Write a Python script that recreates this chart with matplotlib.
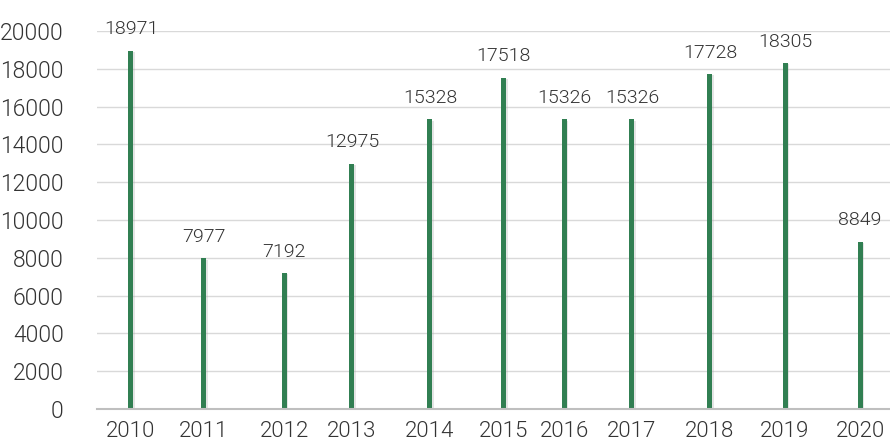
import matplotlib
matplotlib.use("Agg")
import matplotlib.pyplot as plt
import matplotlib.dates as mdates
import matplotlib.patheffects as pe
import numpy as np
from datetime import datetime, timedelta

# record dates and totals per year
dates = ["2010-06-30", "2011-06-30", "2012-08-05", "2013-07-11", "2014-08-06",
         "2015-08-11", "2016-06-08", "2017-05-14", "2018-06-09", "2019-06-20",
         "2020-06-30"]
years = ["2010", "2011", "2012", "2013", "2014", "2015", "2016", "2017",
         "2018", "2019", "2020"]
totals = [18971, 7977, 7192, 12975, 15328, 17518, 15326, 15326, 17728, 18305, 8849]

x = [datetime.strptime(d, "%Y-%m-%d") for d in dates]

plt.rcParams['font.family'] = ['Roboto', 'DejaVu Sans']
plt.rcParams['font.weight'] = 300
text_color = '#333333'

fig = plt.figure(figsize=(8.9, 4.44), dpi=100)
ax = fig.add_axes([0.109, 0.079, 0.891, 0.851])

bars = ax.bar(x, totals, width=25, color='#317f52', zorder=3)
for b in bars:
    b.set_path_effects([pe.SimplePatchShadow(offset=(1, -1), shadow_rgbFace='#aaaaaa', alpha=0.3),
                        pe.Normal()])

for xi, v in zip(x, totals):
    ax.annotate(str(v), (mdates.date2num(xi), v), xytext=(0, 9), textcoords='offset points',
                ha='center', va='bottom', fontsize=14, fontweight=300, color=text_color)

ax.set_ylim(0, 20000)
ax.set_yticks(np.arange(0, 20001, 2000))
ax.set_xlim(x[0] - timedelta(days=170), x[-1] + timedelta(days=150))
ax.set_xticks(x)
ax.set_xticklabels(years)

ax.grid(axis='y', color='#d9d9d9', linewidth=1, zorder=0)
for s in ['top', 'right', 'left']:
    ax.spines[s].set_visible(False)
ax.spines['bottom'].set_color('#bfbfbf')
ax.spines['bottom'].set_linewidth(1.5)
ax.spines['bottom'].set_zorder(4)

ax.tick_params(axis='both', length=0, labelsize=16, colors=text_color)
ax.tick_params(axis='y', pad=24, labelsize=16.5)
ax.tick_params(axis='x', pad=9)
for lab in ax.get_xticklabels() + ax.get_yticklabels():
    lab.set_fontweight(300)

fig.savefig("out.png", dpi=100)
